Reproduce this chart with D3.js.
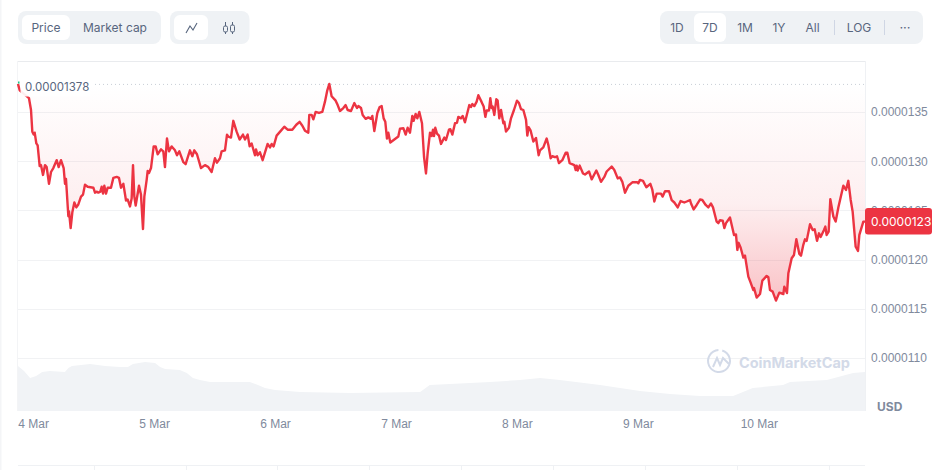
<!DOCTYPE html>
<html>
<head>
<meta charset="utf-8">
<script src="https://cdn.jsdelivr.net/npm/d3@7"></script>
<style>
  html, body { margin: 0; padding: 0; background: #fff; }
  svg { display: block; font-family: Inter, "Noto Sans", sans-serif; }
  text { fill: #58667e; }
</style>
</head>
<body>
<svg id="chart" width="936" height="470"></svg>
<script>
// hours since the left edge of the chart
const priceHours = [
  0,0.33,2.18,2.58,2.84,3.11,3.31,3.64,3.9,4.3,4.56,4.96,5.36,5.69,6.15,6.55,7.01,7.67,8.07,8.53,9.06,9.33,9.52,9.99,10.12,10.45,10.78,11.18,11.57,11.97,12.5,12.9,13.29,13.82,14.95,15.28,15.67,15.94,16.34,16.6,16.87,17.13,17.46,17.79,18.45,18.92,19.58,20.04,20.44,20.9,21.43,21.76,22.22,22.55,22.82,23.08,23.35,24.01,24.4,24.8,25.07,25.53,25.73,25.99,26.39,26.92,27.31,27.71,
  28.37,28.83,29.16,29.56,29.96,30.49,31.15,31.55,32.01,32.8,33.26,34.12,34.59,34.98,35.51,36.31,37.1,37.76,38.42,39.08,39.48,40.08,40.41,41.07,41.47,41.73,42.26,42.72,43.38,43.98,44.64,45.04,45.57,45.96,46.36,47.02,47.22,47.55,48.01,48.54,49.53,50,50.33,50.72,51.32,52.18,52.84,53.5,54.43,55.22,55.88,
  56.42,56.94,57.6,57.8,58.27,58.6,59.06,59.72,60.38,60.91,61.37,61.77,62.23,63.03,63.43,63.89,64.55,65.01,65.41,66.07,66.73,67.26,67.53,68.06,68.39,68.98,69.51,70.04,70.3,70.7,71.3,71.76,72.16,72.55,72.88,73.21,73.48,73.87,74.67,75.46,75.79,76.46,76.92,77.31,77.78,78.24,78.5,78.9,79.23,79.63,80.16,80.56,80.95,81.28,81.75,82.08,82.34,82.54,82.8,83.13,83.53,83.93,
  84.59,84.92,85.52,85.78,86.18,86.71,87.1,87.37,87.9,88.23,88.69,89.55,89.88,90.15,90.54,91.01,91.34,92,92.4,92.73,92.99,93.45,93.72,93.98,94.18,94.51,94.91,95.17,95.5,95.84,96.3,96.5,96.83,97.42,97.82,98.41,99.01,99.41,99.8,100.27,100.8,101.06,101.32,101.72,102.25,102.78,103.31,103.57,104.23,104.9,105.23,105.69,106.02,106.55,106.95,107.34,108,108.67,109,109.46,110.39,
  110.65,110.85,111.05,111.45,112.11,112.5,113.3,113.83,114.75,115.15,115.68,116.34,116.8,117.8,118.32,118.99,119.45,119.91,120.44,121.1,121.9,122.89,123.09,123.42,124.01,124.67,125.47,125.86,126.26,126.72,127.58,127.91,128.38,129.17,129.7,130.23,130.89,131.48,132.21,132.68,133.34,133.54,134.07,134.66,135.32,135.78,136.45,136.97,137.5,137.9,138.63,138.96,139.29,
  139.82,140.15,140.48,141.27,142.07,142.46,142.73,142.99,143.39,143.92,144.25,144.91,145.37,145.9,146.04,146.56,147.23,147.69,148.55,148.88,149.21,149.74,150.4,151.06,151.86,152.05,152.58,152.85,153.51,153.97,154.44,155.03,155.36,155.82,156.15,156.48,157.15,157.68,158.07,158.54,158.93,159.26,159.92,160.19,160.45,160.85,161.18,161.78,162.24,162.77,163.76,164.29,164.75,165.22,165.61,166.21,166.67,166.94,167.73,168.06
];

// price in units of 1e-7 USD
const priceValues = [
  137.85,137.2,136.4,135.2,133,132.7,132.9,131.8,131.6,129.5,129.6,128.6,129.6,129.4,127.7,128.9,129.3,130.1,129.4,130.1,129.3,127.7,128.2,124.4,124.9,123.2,124.8,125.8,125.3,125.6,126.4,126.6,127.6,127.4,127.3,126.8,126.9,126.8,126.9,127.4,126.7,127.5,126.7,127.3,127.3,128.3,128.4,128.3,127.3,127.7,126,126.1,125.4,126.2,129.6,126.4,125.5,127.5,126.6,123.1,126.4,128.1,129,128.8,129.3,131.5,131.5,130.7,
  131.2,131,129.4,132.3,131,131.5,131.1,130.6,131,129.9,129.7,131.1,130.5,131.1,130.7,129.3,129.6,129.4,128.9,130.3,129.85,130.3,131,131.1,132.7,132.5,132.4,134.1,133,132.2,132.7,132.2,132.7,131.5,131.8,130.6,131.2,130.6,130.9,130.1,131.75,131.4,131.75,131.5,132.6,133.1,133.5,133.2,133.2,133.7,134,
  133.6,133.1,132.9,134.7,134.7,134.25,135,134.9,135,136.05,137.2,137.85,136.6,136.15,135.7,135.1,135.4,135.7,135.2,135.1,135.9,135.4,135.6,135.4,134.7,134.3,134.45,134.3,134.6,133.05,134.9,135.5,135.6,134.35,134,132.3,132.9,131.9,132.2,132.5,133.3,133.35,132.7,133.4,132.9,134.6,134.1,134.8,134.35,135,133.85,130.45,128.75,130.8,132.9,132.55,133.2,132.55,133.4,132.8,132.6,131.75,
  132.4,132.15,133.2,133.25,132.7,133.85,133.9,134.5,134.35,134.6,133.95,135.7,135.5,135.8,135.6,136.05,136.7,136,135.55,134.5,135.15,135.15,136.4,135.4,135.55,134.7,136.3,136.15,134.35,135.2,133.85,134,133,133.4,134.35,135.2,136.15,135.9,135.3,135.2,134.2,132.6,133.45,133.1,132,132.35,130.6,131.1,131.4,132.3,131.65,130.3,130.5,130.4,130.5,129.8,130.1,130.85,130.85,129.8,129.6,
  129.1,129.55,129.05,129.55,128.75,128.65,128.95,128.15,129.05,128.6,127.9,128.4,128.95,129.45,129.1,128.25,128.35,127.9,126.8,127.5,127.85,127.85,127.75,128.1,128,127.35,127.7,127.1,125.9,126.7,126.7,126.4,126.95,126.95,126.05,125.8,125.3,125.95,125.8,125.9,126.05,125.7,125.1,125.55,126.1,126.05,125.55,125.3,125.7,125.3,123.85,123.7,124,
  123.96,123.2,123.7,124.27,122.5,122.55,120.98,121.7,121.2,120.2,120.4,118.27,117.66,116.9,117.1,116.14,116.5,117.86,118.34,118.2,116.9,116.74,115.83,116.64,116.5,117.25,116.6,118.6,120.13,120.47,122.06,120.57,120.4,121.5,122.06,121.9,123.6,123,123.08,121.9,122.67,122.3,123,123.35,122.5,122.84,126.13,124.37,123.86,125.3,127.5,127.08,128,126.06,124.87,121.3,120.88,122.5,123.86,123.86
];

const volumeHours = [0,1.2,2.4,3.6,4.8,6.3,9.3,10,10.7,14.3,17.3,20.2,21.8,22.8,25.2,27.2,28.2,29.2,32.1,33.5,34.7,36.1,38.1,46,47.6,49,51,56,65.9,79.8,81.7,93.7,99.6,103.6,107.5,115.5,123.4,129.4,135.3,141.9,145.8,151.8,153.2,160.5,165.7,168.06];
const volumeValues = [45,40,33,35,39,40,39,43,45,47,45,44,44,47,49,48,44,42,41,38,33,31,29,29,26,23,21,19,18,19,26,29,31,33,31,26,20,17,15,15,23,26,29,31,38,39];

const yTicks = [135, 130, 125, 120, 115, 110];
const dayTicks = [3, 27, 51, 75, 99, 123, 147];
const dayLabels = ['4 Mar', '5 Mar', '6 Mar', '7 Mar', '8 Mar', '9 Mar', '10 Mar'];
const openPrice = 137.8;
const lastPrice = 123.86;

const rangeButtons = [['1D', 677], ['7D', 710], ['1M', 745], ['1Y', 779], ['All', 812.5], ['LOG', 859]];

const red = '#ec3442';
const grey = '#808a9d';
const slate = '#58667e';
const gridColor = '#f1f2f4';

let svg = d3.select('#chart');

let x = d3.scaleLinear().domain([0, 168.06]).range([18, 865]);
let y = d3.scaleLinear().domain([104.61, 140.18]).range([411, 61]);
let v = d3.scaleLinear().domain([0, 50]).range([411, 361]);

let priceData = priceHours.map((h, i) => ({ h: h, p: priceValues[i] }));
let volumeData = volumeHours.map((h, i) => ({ h: h, q: volumeValues[i] }));

// gradient of the fill under the open price
let grad = svg.append('defs').append('linearGradient')
  .attr('id', 'fade')
  .attr('gradientUnits', 'userSpaceOnUse')
  .attr('x1', 0).attr('x2', 0)
  .attr('y1', y(openPrice)).attr('y2', y(115.8));
grad.append('stop').attr('offset', 0).attr('stop-color', red).attr('stop-opacity', 0);
grad.append('stop').attr('offset', 0.55).attr('stop-color', red).attr('stop-opacity', 0.08);
grad.append('stop').attr('offset', 1).attr('stop-color', red).attr('stop-opacity', 0.3);

// page edge
svg.append('rect').attr('x', 0).attr('y', 0).attr('width', 1.5).attr('height', 470).attr('fill', '#f4f5f7');

// toolbar
function pill(px, py, w, h, r, fill) {
  svg.append('rect').attr('x', px).attr('y', py).attr('width', w).attr('height', h)
    .attr('rx', r).attr('fill', fill);
}
function label(txt, cx, cy, size) {
  svg.append('text').attr('x', cx).attr('y', cy).attr('text-anchor', 'middle')
    .attr('dominant-baseline', 'central').style('font-size', size + 'px').text(txt);
}

pill(18, 11, 143, 33, 8, '#eff2f5');
pill(22, 15, 48, 25, 6, '#fff');
label('Price', 46, 27.5, 12);
label('Market cap', 115, 27.5, 12);

pill(170, 11, 79.5, 33, 8, '#eff2f5');
pill(174, 15, 34, 25, 6, '#fff');
svg.append('path').attr('d', 'M186 33L190 26L193 30L197 23')
  .attr('fill', 'none').attr('stroke', slate).attr('stroke-width', 1.1);
svg.append('path').attr('d', 'M225.5 22V34M232.5 22V34')
  .attr('fill', 'none').attr('stroke', slate).attr('stroke-width', 1);
svg.append('rect').attr('x', 223.5).attr('y', 26).attr('width', 4).attr('height', 6).attr('rx', 1.5)
  .attr('fill', '#eff2f5').attr('stroke', slate);
svg.append('rect').attr('x', 230.5).attr('y', 25).attr('width', 4).attr('height', 7).attr('rx', 1.5)
  .attr('fill', '#eff2f5').attr('stroke', slate);

pill(660, 11, 263, 33, 8, '#eff2f5');
pill(694, 13, 32, 29, 6, '#fff');
rangeButtons.forEach(b => label(b[0], b[1], 27.5, 12));
label('···', 905, 26.5, 13);
[834.5, 884.5].forEach(sx => {
  svg.append('line').attr('x1', sx).attr('x2', sx).attr('y1', 20).attr('y2', 35)
    .attr('stroke', '#cfd6e4');
});

// frame
svg.append('line').attr('x1', 18).attr('x2', 865).attr('y1', 61.5).attr('y2', 61.5).attr('stroke', '#e9ebee');
svg.append('line').attr('x1', 17.5).attr('x2', 17.5).attr('y1', 61).attr('y2', 411).attr('stroke', '#f3f4f6');
svg.append('line').attr('x1', 865.5).attr('x2', 865.5).attr('y1', 61).attr('y2', 411).attr('stroke', '#eff1f4');

// y axis, the ticks double as grid lines
let yAxis = svg.append('g')
  .attr('transform', 'translate(865,0)')
  .call(d3.axisRight(y).tickValues(yTicks).tickSize(0).tickPadding(6)
    .tickFormat(d => (d / 1e7).toFixed(7)));
yAxis.select('.domain').remove();
yAxis.selectAll('text').style('font-size', '12px').style('fill', grey);

svg.append('g').selectAll('line')
  .data(yTicks)
  .enter()
  .append('line')
  .attr('x1', 18).attr('x2', 865)
  .attr('y1', d => Math.round(y(d)) + 0.5)
  .attr('y2', d => Math.round(y(d)) + 0.5)
  .attr('stroke', gridColor);

// x axis
let xAxis = svg.append('g')
  .attr('transform', 'translate(0,411)')
  .call(d3.axisBottom(x).tickValues(dayTicks).tickSize(0).tickPadding(8)
    .tickFormat((d, i) => dayLabels[i]));
xAxis.select('.domain').remove();
xAxis.selectAll('text').style('font-size', '12px').style('fill', grey);

// volume
svg.append('path')
  .datum(volumeData)
  .attr('fill', '#f1f3f6')
  .attr('d', d3.area().x(d => x(d.h)).y0(v(0)).y1(d => v(d.q)));

// price fill and line
svg.append('path')
  .datum(priceData)
  .attr('fill', 'url(#fade)')
  .attr('d', d3.area().x(d => x(d.h)).y0(y(openPrice)).y1(d => y(d.p)));

svg.append('path')
  .datum(priceData)
  .attr('fill', 'none')
  .attr('stroke', red)
  .attr('stroke-width', 2.4)
  .attr('stroke-linejoin', 'round')
  .attr('d', d3.line().x(d => x(d.h)).y(d => y(d.p)));

// open price marker
svg.append('line')
  .attr('x1', 95).attr('x2', 865)
  .attr('y1', y(openPrice)).attr('y2', y(openPrice))
  .attr('stroke', '#c9ced6')
  .attr('stroke-dasharray', '1 3');
svg.append('rect').attr('x', 20.5).attr('y', 77).attr('width', 70).attr('height', 19.5)
  .attr('fill', '#fff').attr('fill-opacity', 0.92);
svg.append('rect').attr('x', 18).attr('y', 81.5).attr('width', 1.5).attr('height', 2).attr('fill', '#16c784');
svg.append('text').attr('x', 25).attr('y', y(openPrice) + 2.5)
  .attr('dominant-baseline', 'central').style('font-size', '11.5px').text('0.00001378');

// last price tag, the label is cut to seven decimals
pill(865, y(lastPrice) - 13.5, 67, 26.5, 3, red);
svg.append('text').attr('x', 871).attr('y', y(lastPrice))
  .attr('dominant-baseline', 'central')
  .style('font-size', '12px').style('fill', '#fff')
  .text((Math.floor(lastPrice) / 1e7).toFixed(7));

svg.append('text').attr('x', 877).attr('y', 406.5)
  .attr('dominant-baseline', 'central')
  .style('font-size', '12px').style('font-weight', 700).style('fill', grey)
  .text('USD');

// watermark
let mark = svg.append('g').attr('transform', 'translate(719,361)');
mark.append('path')
  .attr('d', d3.arc().innerRadius(10).outerRadius(12).startAngle(0.3).endAngle(Math.PI * 2 - 0.05)())
  .attr('fill', '#d3dae8');
mark.append('path')
  .attr('d', 'M-6 6L-2 -3L1 4L4 -3L10 3')
  .attr('fill', 'none').attr('stroke', '#d3dae8').attr('stroke-width', 2);
svg.append('text').attr('x', 739).attr('y', 362)
  .attr('dominant-baseline', 'central')
  .style('font-size', '14.5px').style('font-weight', 700).style('fill', '#d3dae8')
  .text('CoinMarketCap');

// cut off strip below the chart
svg.append('line').attr('x1', 18).attr('x2', 865).attr('y1', 465.5).attr('y2', 465.5).attr('stroke', '#eff1f4');
svg.append('g').selectAll('line')
  .data([94, 186, 277, 369, 461, 553, 645, 737, 829])
  .enter()
  .append('line')
  .attr('x1', d => d + 0.5).attr('x2', d => d + 0.5)
  .attr('y1', 465).attr('y2', 470)
  .attr('stroke', '#eff1f4');
</script>
</body>
</html>
